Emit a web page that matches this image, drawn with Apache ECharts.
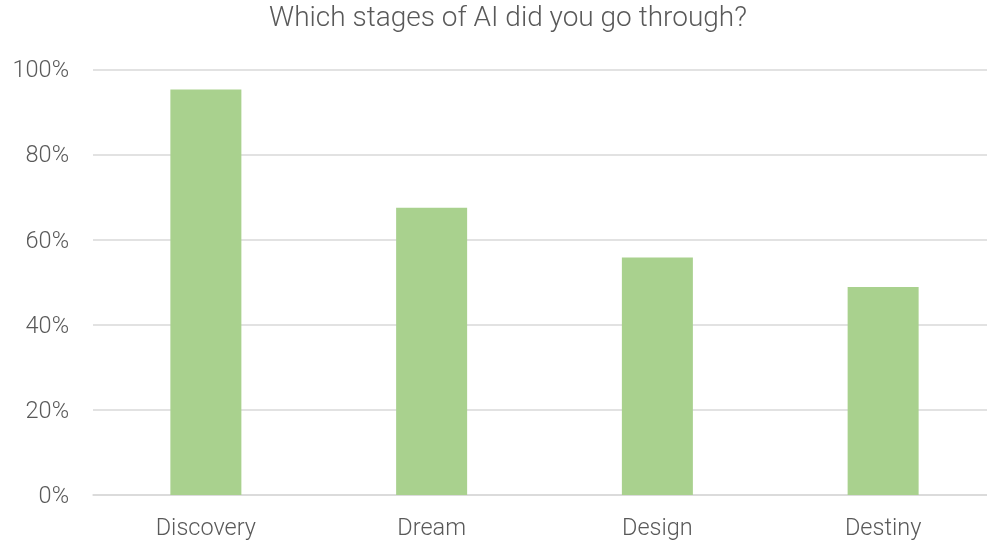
<!DOCTYPE html>
<html>
<head>
<meta charset="utf-8">
<script src="https://cdn.jsdelivr.net/npm/echarts@6/dist/echarts.min.js"></script>
<style>html,body{margin:0;padding:0;background:#fff;overflow:hidden}#c{width:1000px;height:545px}</style>
</head>
<body>
<div id="c"></div>
<script>
var titleText = "Which stages of AI did you go through?";
var categories = ["Discovery", "Dream", "Design", "Destiny"];
var values = [0.953, 0.675, 0.558, 0.489];
var yTicks = [0, 0.2, 0.4, 0.6, 0.8, 1.0];

var chart = echarts.init(document.getElementById('c'));
var font = "Roboto";
chart.setOption({
  animation: false,
  backgroundColor: '#ffffff',
  title: {
    text: titleText,
    left: 503, top: 0, textAlign: 'center',
    textStyle: { fontFamily: font, fontWeight: 300, fontSize: 28, color: '#595959' }
  },
  grid: { left: 93, top: 69.5, width: 903, height: 425.5, containLabel: false },
  xAxis: {
    type: 'category',
    data: categories,
    axisLine: { show: true, lineStyle: { color: '#D9D9D9', width: 1.5 } },
    axisTick: { show: false },
    axisLabel: { fontFamily: font, fontWeight: 300, fontSize: 23.5, color: '#595959', margin: 22 }
  },
  yAxis: {
    type: 'value',
    min: yTicks[0], max: yTicks[yTicks.length - 1], interval: 0.2,
    axisLine: { show: false },
    axisTick: { show: false },
    splitLine: { lineStyle: { color: '#D9D9D9', width: 1.5 } },
    axisLabel: {
      fontFamily: font, fontWeight: 300, fontSize: 23.5, color: '#595959', margin: 24,
      formatter: function (v) { return '{a|' + Math.round(v * 100) + '%}'; },
      rich: { a: { fontFamily: font, fontWeight: 300, fontSize: 23.5, color: '#595959', padding: [4, 0, 0, 0] } }
    }
  },
  series: [{
    type: 'bar',
    data: values,
    barWidth: 71,
    itemStyle: { color: '#A9D18E' }
  }]
});
</script>
</body>
</html>
